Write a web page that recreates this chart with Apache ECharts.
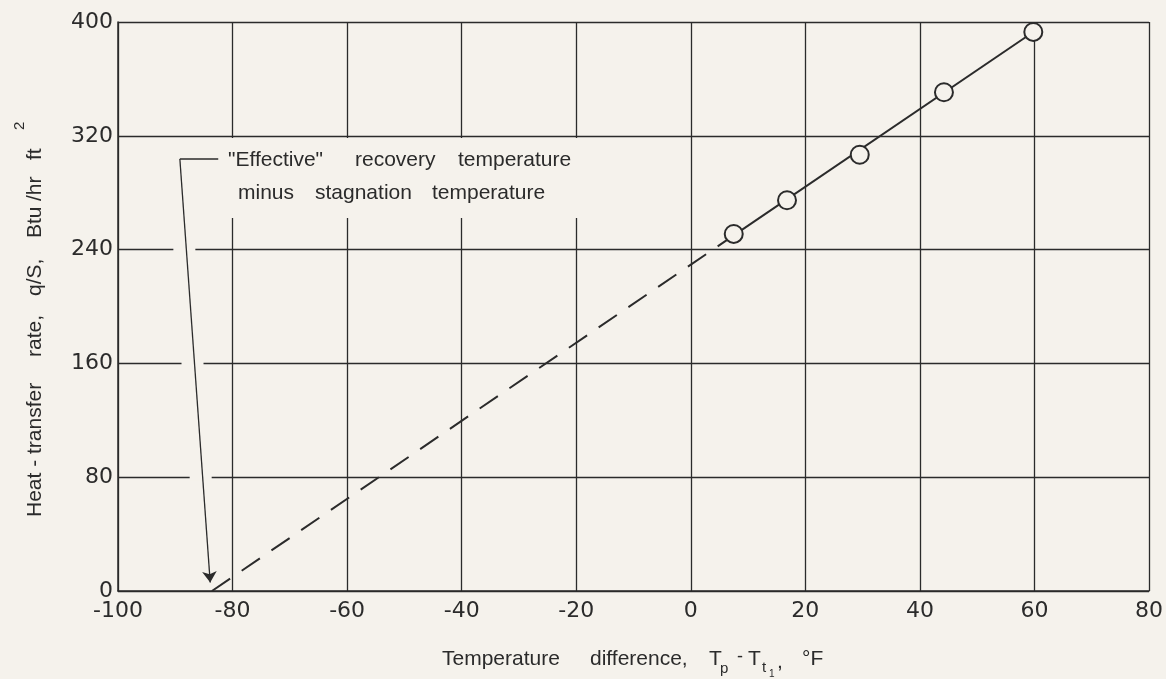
<!DOCTYPE html>
<html><head><meta charset="utf-8">
<script src="https://cdn.jsdelivr.net/npm/echarts@6/dist/echarts.min.js"></script>
<style>html,body{margin:0;padding:0;background:#f5f2ec}#c{width:1166px;height:679px}</style>
</head><body><div id="c"></div>
<script>
// Data
const tempDiff = [7.5, 16.8, 29.5, 44.2, 59.8];        // Tp - Tt1, °F
const heatRate = [251, 274.7, 306.7, 350.6, 393];       // q/S, Btu/hr ft^2
const fitX = [-83.6, 7.5, 59.8];                         // faired line (dashed extrapolation + solid)
const fitY = [0, 250, 393];
const leaderX = [-82.5, -89.2, -83.9];                   // annotation leader
const leaderY = [303.7, 303.7, 6];
const xTickMin = -100, xTickMax = 80, xTickStep = 20;
const yTickMin = 0, yTickMax = 400, yTickStep = 80;
const noteLine1 = ['"Effective"', 'recovery', 'temperature'];
const noteLine2 = ['minus', 'stagnation', 'temperature'];

const INK = '#2b2b2b', PAPER = '#f5f2ec';
const NUMFONT = '"DejaVu Sans", sans-serif';
const TXTFONT = '"Liberation Sans", Arial, sans-serif';
const chart = echarts.init(document.getElementById('c'));
const pts = tempDiff.map((x, i) => [x, heatRate[i]]);
const dashed = [[fitX[0], fitY[0]], [fitX[1], fitY[1]]];
const solid = [[fitX[1], fitY[1]], [fitX[2], fitY[2]]];

chart.setOption({
  backgroundColor: PAPER,
  animation: false,
  grid: {left: 118, right: 17, top: 22, bottom: 88},
  xAxis: {
    type: 'value', min: xTickMin, max: xTickMax, interval: xTickStep,
    axisLine: {show: true, onZero: false, lineStyle: {color: INK, width: 1.5}},
    axisTick: {show: false},
    axisLabel: {color: INK, fontFamily: NUMFONT, fontSize: 22, margin: 9},
    splitLine: {show: true, lineStyle: {color: INK, width: 1.3}}
  },
  yAxis: {
    type: 'value', min: yTickMin, max: yTickMax, interval: yTickStep,
    axisLine: {show: true, onZero: false, lineStyle: {color: INK, width: 1.5}},
    axisTick: {show: false},
    axisLabel: {color: INK, fontFamily: NUMFONT, fontSize: 22, margin: 5},
    splitLine: {show: true, lineStyle: {color: INK, width: 1.3}}
  },
  series: [
    {type: 'line', data: dashed, symbol: 'none', z: 3,
     lineStyle: {color: INK, width: 2, type: [22, 14]}},
    {type: 'line', data: solid, symbol: 'none', z: 3,
     lineStyle: {color: INK, width: 2}},
    {type: 'scatter', data: pts, symbol: 'circle', symbolSize: 18, z: 4,
     itemStyle: {color: PAPER, borderColor: INK, borderWidth: 2, opacity: 1}},
    {type: 'line', data: [[leaderX[0], leaderY[0]], [leaderX[1], leaderY[1]]], symbol: 'none', z: 3,
     lineStyle: {color: INK, width: 1.3},
     markLine: {silent: true, symbol: ['none', 'arrow'], symbolSize: 11, label: {show: false},
       lineStyle: {color: INK, width: 1.3, type: 'solid'},
       data: [[{coord: [leaderX[1], leaderY[1]]}, {coord: [leaderX[2], leaderY[2]]}]]}}
  ]
});

const px = (x, y) => chart.convertToPixel({gridIndex: 0}, [x, y]);
const g = [];
const txt = (s, x, y, size, rot) => g.push({type: 'text', z: 5, x: x, y: y, rotation: rot || 0,
  style: {text: s, font: size + 'px ' + TXTFONT, fill: INK, verticalAlign: 'middle'}});
// paper behind the annotation hides the grid lines
g.push({type: 'rect', z: 1, shape: {x: 215, y: 138, width: 378, height: 80}, style: {fill: PAPER}});
// small breaks in the horizontal grid lines where the leader crosses
[240, 160, 80].forEach(v => {
  const t = (leaderY[1] - v) / (leaderY[1] - leaderY[2]);
  const xv = leaderX[1] + t * (leaderX[2] - leaderX[1]);
  const p = px(xv, v);
  g.push({type: 'rect', z: 1, shape: {x: p[0] - 13, y: p[1] - 3, width: 22, height: 6}, style: {fill: PAPER}});
});
// annotation words
const w1x = [228, 355, 458], w2x = [238, 315, 432];
noteLine1.forEach((w, i) => txt(w, w1x[i], 160, 21));
noteLine2.forEach((w, i) => txt(w, w2x[i], 193, 21));
// x-axis title: Temperature difference, Tp - Tt1, °F
txt('Temperature', 442, 659, 21);
txt('difference,', 590, 659, 21);
txt('T', 709, 659, 21);
txt('p', 720, 669, 15);
txt('-', 737, 657, 18);
txt('T', 748, 659, 21);
txt('t', 762, 668, 15);
txt('1', 769, 674, 10);
txt(',', 777, 662, 21);
txt('°F', 802, 659, 21);
// y-axis title (reads bottom to top)
const R = Math.PI / 2;
txt('Heat - transfer', 35, 517, 21, R);
txt('rate,', 35, 357, 21, R);
txt('q/S,', 35, 296, 21, R);
txt('Btu', 35, 238, 21, R);
txt('/hr', 35, 201, 21, R);
txt('ft', 35, 160, 21, R);
txt('2', 20, 130, 15, R);
chart.setOption({graphic: g});
</script></body></html>
